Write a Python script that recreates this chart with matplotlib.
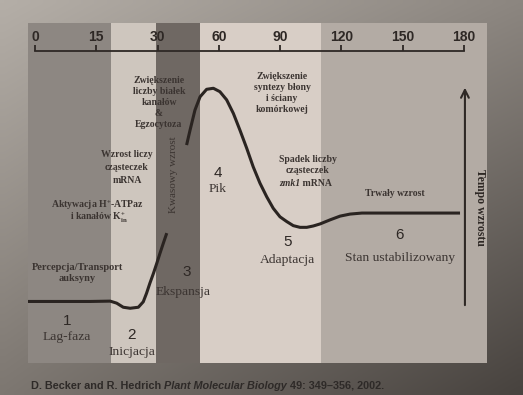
import numpy as np
import matplotlib
matplotlib.use('Agg')
import matplotlib.pyplot as plt

plt.rcParams['mathtext.fontset'] = 'custom'
plt.rcParams['mathtext.rm'] = 'Liberation Serif:bold'
plt.rcParams['mathtext.it'] = 'Liberation Serif:italic:bold'
plt.rcParams['mathtext.bf'] = 'Liberation Serif:bold'

# time in minutes and growth rate (arbitrary units)
t_early = [-1.7, 13.5, 18.4, 20.0, 21.6, 23.3, 25.3, 26.5, 27.3, 28.1, 29.0,
           29.8, 31.2, 32.8, 34.5]
rate_early = [18.1, 18.1, 18.2, 17.6, 16.4, 16.1, 16.4, 18.0, 20.5, 23.4, 26.4,
              29.3, 32.3, 35.2, 38.2]
t_late = [44.2, 45.9, 48.3, 50.8, 54.0, 57.3, 60.5, 63.8, 67.1, 70.3, 73.6,
          76.8, 80.1, 83.4, 86.6, 89.9, 93.2, 96.4, 99.7, 103.0, 106.2, 109.5,
          114.4, 119.3, 124.2, 130.0, 178.0]
rate_late = [64.1, 68.5, 74.4, 78.3, 80.5, 80.8, 79.8, 77.4, 73.4, 68.5, 63.2,
             57.7, 52.9, 48.9, 45.5, 43.0, 41.6, 40.4, 39.9, 39.9, 40.3, 40.9,
             42.1, 43.2, 43.8, 44.1, 44.1]

phase_edges = [-1.7, 18.6, 29.6, 50.8, 110.0, 191.2]
phase_colors = ['#8d8782', '#cec6be', '#6f6863', '#d8cec6', '#b3aba4']
ticks = [0, 15, 30, 60, 90, 120, 150, 180]

ink = '#3b3431'
serif = 'Liberation Serif'
sans = 'Liberation Sans'


def fwd(t):
    t = np.asarray(t, dtype=float)
    return np.where(t <= 30, t / 15.0, 2 + (t - 30) / 30.0)


def inv(p):
    p = np.asarray(p, dtype=float)
    return np.where(p <= 2, p * 15.0, 30 + (p - 2) * 30.0)


fig = plt.figure(figsize=(5.23, 3.95), dpi=100)

# photo-like background, lighter top left, darker bottom right
bg = fig.add_axes([0, 0, 1, 1], zorder=0)
tl = np.array([180, 174, 167]) / 255.
tr = np.array([140, 134, 128]) / 255.
bl = np.array([125, 119, 113]) / 255.
br = np.array([72, 67, 63]) / 255.
u = np.linspace(0, 1, 60)[None, :, None]
v = np.linspace(0, 1, 60)[:, None, None]
grad = (1 - v) * ((1 - u) * tl + u * tr) + v * ((1 - u) * bl + u * br)
bg.imshow(grad, aspect='auto', extent=[0, 1, 0, 1], interpolation='bilinear')
bg.axis('off')

ax = fig.add_axes([28 / 523, 1 - 363 / 395, 459 / 523, 340 / 395], zorder=1)
ax.patch.set_visible(False)
ax.set_xscale('function', functions=(fwd, inv))
ax.set_xlim(phase_edges[0], phase_edges[-1])
ax.set_ylim(0, 100)

for i in range(len(phase_colors)):
    ax.axvspan(phase_edges[i], phase_edges[i + 1], color=phase_colors[i], lw=0, zorder=0)

line_kw = dict(color='#2a2421', lw=2.2, solid_capstyle='butt', solid_joinstyle='round', zorder=3)
ax.plot(t_early, rate_early, **line_kw)
ax.plot(t_late, rate_late, **line_kw)

# time axis drawn along the top
for s in ['left', 'right', 'bottom']:
    ax.spines[s].set_visible(False)
ax.spines['top'].set_position(('data', 91.9))
ax.spines['top'].set_bounds(0, 180)
ax.spines['top'].set_color('#2e2825')
ax.spines['top'].set_linewidth(1.3)
ax.xaxis.tick_top()
ax.set_xticks(ticks)
ax.set_xticklabels([str(t) for t in ticks], fontfamily=sans, fontweight='bold',
                   fontsize=10, color='#2e2825')
ax.tick_params(axis='x', direction='out', length=4, width=1.3, color='#2e2825', pad=1)
ax.minorticks_off()
ax.set_yticks([])

ax.annotate('', xy=(180.4, 81.8), xytext=(180.4, 16.2),
            arrowprops=dict(arrowstyle='->', color='#2e2825', lw=1.5, mutation_scale=14))
ax.text(187.8, 45.9, 'Tempo wzrostu', rotation=-90, ha='center', va='center',
        fontfamily=serif, fontweight='bold', fontsize=8.5, color='#2e2825')

small = dict(fontfamily=serif, fontweight='bold', fontsize=7, color=ink,
             ha='center', va='center', linespacing=1.3)
ax.text(30.7, 76.6, 'Zwiększenie\nliczby białek\nkanałów\n&\nEgzocytoza', **small)
ax.text(90.9, 79.4, 'Zwiększenie\nsyntezy błony\ni ściany\nkomórkowej', **small)
ax.text(22.5, 57.4, 'Wzrost liczy\ncząsteczek\nmRNA', **dict(small, linespacing=1.55))
ax.text(103.6, 58.3, 'Spadek liczby\ncząsteczek', **small)
ax.text(99.7, 52.9, 'zmk1', fontfamily=serif, fontweight='bold', style='italic',
        fontsize=7, color=ink, ha='right', va='center')
ax.text(99.7, 52.9, ' mRNA', fontfamily=serif, fontweight='bold',
        fontsize=7, color=ink, ha='left', va='center')
ax.text(146.2, 50.0, 'Trwały wzrost', **small)
ax.text(15.2, 46.5, 'Aktywacja H$^{+}$-ATPaz', **small)
ax.text(15.6, 42.6, 'i kanałów K$^{+}_{\\mathrm{in}}$', **small)
ax.text(10.3, 26.5, 'Percepcja/Transport\nauksyny', fontfamily=serif, fontweight='bold',
        fontsize=7.5, color=ink, ha='center', va='center', linespacing=1.3)
ax.text(37.8, 55.3, 'Kwasowy wzrost', rotation=90, ha='center', va='center',
        fontfamily=serif, fontsize=8, color=ink)

# phase numbers and names
phase_num = ['1', '2', '3', '4', '5', '6']
phase_name = ['Lag-faza', 'Inicjacja', 'Ekspansja', 'Pik', 'Adaptacja', 'Stan ustabilizowany']
num_xy = [(7.8, 12.4), (23.7, 8.2), (44.4, 26.8), (59.6, 55.9), (93.8, 35.6), (148.6, 37.6)]
name_xy = [(7.8, 7.6), (23.7, 3.2), (42.4, 20.9), (59.6, 51.2), (93.8, 30.3), (148.6, 30.9)]
for n, name, (nx, ny), (mx, my) in zip(phase_num, phase_name, num_xy, name_xy):
    ax.text(nx, ny, n, fontfamily=sans, fontsize=11, color='#2e2825', ha='center', va='center')
    ax.text(mx, my, name, fontfamily=serif, fontsize=9.7, color=ink, ha='center', va='center')

# source line at the bottom
fig.canvas.draw()
r = fig.canvas.get_renderer()
parts = [('D. Becker and R. Hedrich ', 'normal'), ('Plant Molecular Biology', 'italic'),
         (' 49: 349–356, 2002.', 'normal')]
x = 31 / 523
for txt, st in parts:
    tt = fig.text(x, 1 - 386 / 395, txt, fontfamily=sans, fontweight='bold', style=st,
                  fontsize=7.8, color='#2e2a28', va='center', ha='left', zorder=2)
    bb = tt.get_window_extent(renderer=r)
    x = x + bb.width / fig.bbox.width

fig.savefig('out.png', dpi=100)
